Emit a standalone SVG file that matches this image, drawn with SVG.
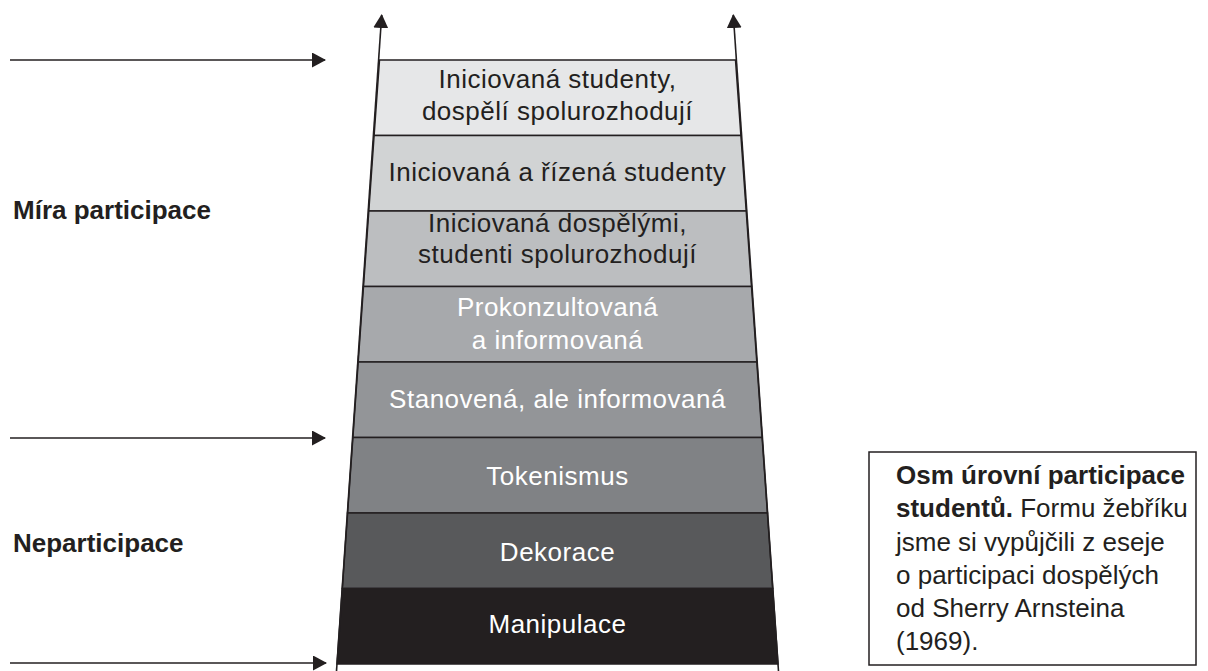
<svg xmlns="http://www.w3.org/2000/svg" width="1208" height="671" viewBox="0 0 1208 671">
<style>
.lbl{font-family:"Liberation Sans",Arial,sans-serif;font-size:26px;letter-spacing:0.5px;text-anchor:middle}
.dk{fill:#231f20}
.lt{fill:#ffffff}
.side{font-family:"Liberation Sans",Arial,sans-serif;font-size:26px;font-weight:bold;fill:#231f20}
.note{font-family:"Liberation Sans",Arial,sans-serif;font-size:26px;fill:#231f20}
.row{stroke:#231f20;stroke-width:1.5}
.conn{stroke:#231f20;stroke-width:1.6;fill:none}
</style>
<defs>
<marker id="ah" viewBox="0 0 14 15" refX="13" refY="7.5" markerWidth="14" markerHeight="15" markerUnits="userSpaceOnUse" orient="auto">
<path d="M0,0 L14,7.5 L0,15 Z" fill="#231f20"/>
</marker>
</defs>
<rect width="1208" height="671" fill="#ffffff"/>

<g id="row1"><polygon class="row" fill="#e6e7e8" points="379.5,60 735.5,60 740.9,135.5 374.1,135.5"/>
<text class="lbl dk" x="557.5" y="88">Iniciovaná studenty,</text>
<text class="lbl dk" x="557.5" y="120">dospělí spolurozhodují</text></g>
<g id="row2"><polygon class="row" fill="#d1d3d4" points="374.1,135.5 740.9,135.5 746.2,211 368.8,211"/>
<text class="lbl dk" x="557.5" y="181">Iniciovaná a řízená studenty</text></g>
<g id="row3"><polygon class="row" fill="#bcbec0" points="368.8,211 746.2,211 751.5,286.5 363.5,286.5"/>
<text class="lbl dk" x="557.5" y="232">Iniciovaná dospělými,</text>
<text class="lbl dk" x="557.5" y="263">studenti spolurozhodují</text></g>
<g id="row4"><polygon class="row" fill="#a7a9ac" points="363.5,286.5 751.5,286.5 756.8,362 358.2,362"/>
<text class="lbl lt" x="557.5" y="316">Prokonzultovaná</text>
<text class="lbl lt" x="557.5" y="349">a informovaná</text></g>
<g id="row5"><polygon class="row" fill="#939598" points="358.2,362 756.8,362 762.1,437.5 352.9,437.5"/>
<text class="lbl lt" x="557.5" y="408">Stanovená, ale informovaná</text></g>
<g id="row6"><polygon class="row" fill="#808285" points="352.9,437.5 762.1,437.5 767.4,513 347.6,513"/>
<text class="lbl lt" x="557.5" y="485">Tokenismus</text></g>
<g id="row7"><polygon class="row" fill="#58595b" points="347.6,513 767.4,513 772.7,588.5 342.3,588.5"/>
<text class="lbl lt" x="557.5" y="561">Dekorace</text></g>
<g id="row8"><polygon class="row" fill="#231f20" points="342.3,588.5 772.7,588.5 778,664 337,664"/>
<text class="lbl lt" x="557.5" y="633">Manipulace</text></g>

<g id="connectors">
<line class="conn" x1="336.5" y1="671" x2="381.7" y2="15" marker-end="url(#ah)"/>
<line class="conn" x1="778.5" y1="671" x2="733.3" y2="15" marker-end="url(#ah)"/>
<line class="conn" x1="10" y1="60" x2="325" y2="60" marker-end="url(#ah)"/>
<line class="conn" x1="10" y1="438" x2="325" y2="438" marker-end="url(#ah)"/>
<line class="conn" x1="10" y1="663" x2="326" y2="663" marker-end="url(#ah)"/>
</g>

<g id="label-mira"><text class="side" x="13" y="219">Míra participace</text></g>
<g id="label-neparticipace"><text class="side" x="13" y="552">Neparticipace</text></g>

<g id="note">
<rect x="869" y="452" width="327" height="213" fill="#ffffff" stroke="#231f20" stroke-width="1.5"/>
<text class="note" x="896" y="484"><tspan font-weight="bold">Osm úrovní participace</tspan></text>
<text class="note" x="896" y="517"><tspan font-weight="bold">studentů.</tspan> Formu žebříku</text>
<text class="note" x="896" y="550.5">jsme si vypůjčili z eseje</text>
<text class="note" x="896" y="584">o participaci dospělých</text>
<text class="note" x="896" y="617">od Sherry Arnsteina</text>
<text class="note" x="896" y="650">(1969).</text>
</g>
</svg>
